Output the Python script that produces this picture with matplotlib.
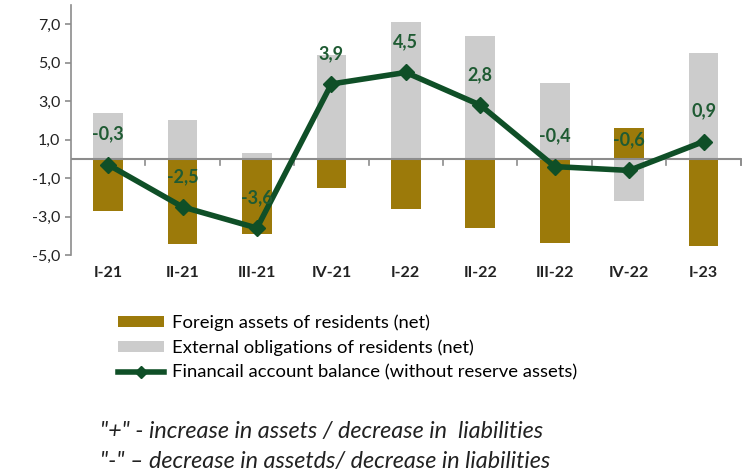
import matplotlib
matplotlib.use("Agg")
import matplotlib.pyplot as plt
from matplotlib.patches import Patch
from matplotlib.lines import Line2D
import numpy as np

plt.rcParams['font.family'] = ['Lato', 'DejaVu Sans']

categories = ["I-21", "II-21", "III-21", "IV-21", "I-22", "II-22", "III-22", "IV-22", "I-23"]
foreign_assets = [-2.7, -4.45, -3.9, -1.5, -2.6, -3.6, -4.4, 1.6, -4.55]
external_obligations = [2.4, 2.0, 0.3, 5.4, 7.1, 6.4, 3.95, -2.2, 5.5]
balance = [-0.3, -2.5, -3.6, 3.9, 4.5, 2.8, -0.4, -0.6, 0.9]
balance_labels = ["-0,3", "-2,5", "-3,6", "3,9", "4,5", "2,8", "-0,4", "-0,6", "0,9"]
yticks = [-5, -3, -1, 1, 3, 5, 7]
ytick_labels = ["-5,0", "-3,0", "-1,0", "1,0", "3,0", "5,0", "7,0"]

gold = "#9C7A0A"
grey = "#CCCCCC"
green = "#0F4F27"

fig = plt.figure(figsize=(7.46, 4.73), dpi=100)
ax = fig.add_axes([0.095, 0.461, 0.898, 0.528])

x = np.arange(len(categories))
w = 0.4
ax.bar(x, external_obligations, width=w, color=grey, zorder=2)
ax.bar(x, foreign_assets, width=w, color=gold, zorder=3)
ax.plot(x, balance, color=green, lw=4, marker='D', ms=8, zorder=5)
for xi, yi, lab in zip(x, balance, balance_labels):
    ax.annotate(lab, (xi, yi), xytext=(0, 22), textcoords='offset points',
                ha='center', va='center', fontsize=13, fontweight='bold',
                color="#1F5B33", zorder=6)

ax.set_xlim(-0.5, len(categories) - 0.5)
ax.set_ylim(-5, 8)
ax.set_yticks(yticks)
ax.set_yticklabels(ytick_labels, fontsize=11.5, color="#222222")

for s in ['top', 'right', 'bottom']:
    ax.spines[s].set_visible(False)
ax.spines['left'].set_color("#8C8C8C")
ax.spines['left'].set_linewidth(1.2)
ax.tick_params(axis='y', length=4, color="#8C8C8C", width=1.2)
ax.axhline(0, color="#8C8C8C", lw=1.5, zorder=4)
# boundary ticks on the zero line
for b in np.arange(0.5, len(categories), 1.0):
    ax.plot([b, b], [0, -0.3], color="#8C8C8C", lw=1.2, zorder=4, clip_on=False)
ax.plot([len(categories) - 0.5] * 2, [0, -0.3], color="#8C8C8C", lw=1.2, zorder=4, clip_on=False)

ax.set_xticks(x)
ax.set_xticklabels(categories, fontsize=11.5, fontweight='bold', color="#222222")
ax.tick_params(axis='x', length=0, pad=8)

handles = [
    Patch(facecolor=gold, edgecolor='none', label="Foreign assets of residents (net)"),
    Patch(facecolor=grey, edgecolor='none', label="External obligations of residents (net)"),
    Line2D([0], [0], color=green, lw=4, marker='D', ms=6,
           label="Financail account balance (without reserve assets)"),
]
fig.legend(handles=handles, loc='upper left', bbox_to_anchor=(0.158, 0.335),
           frameon=False, fontsize=13.3, handlelength=2.5, handleheight=0.5,
           handletextpad=0.45, labelspacing=0.45, borderaxespad=0, borderpad=0)

fig.text(0.134, 0.087, "\"+\" - increase in assets / decrease in  liabilities",
         fontsize=16.8, style='italic', color="#222222", va='center')
fig.text(0.134, 0.024, "\"-\" \u2013 decrease in assetds/ decrease in liabilities",
         fontsize=16.8, style='italic', color="#222222", va='center')

fig.savefig("out.png", dpi=100)
